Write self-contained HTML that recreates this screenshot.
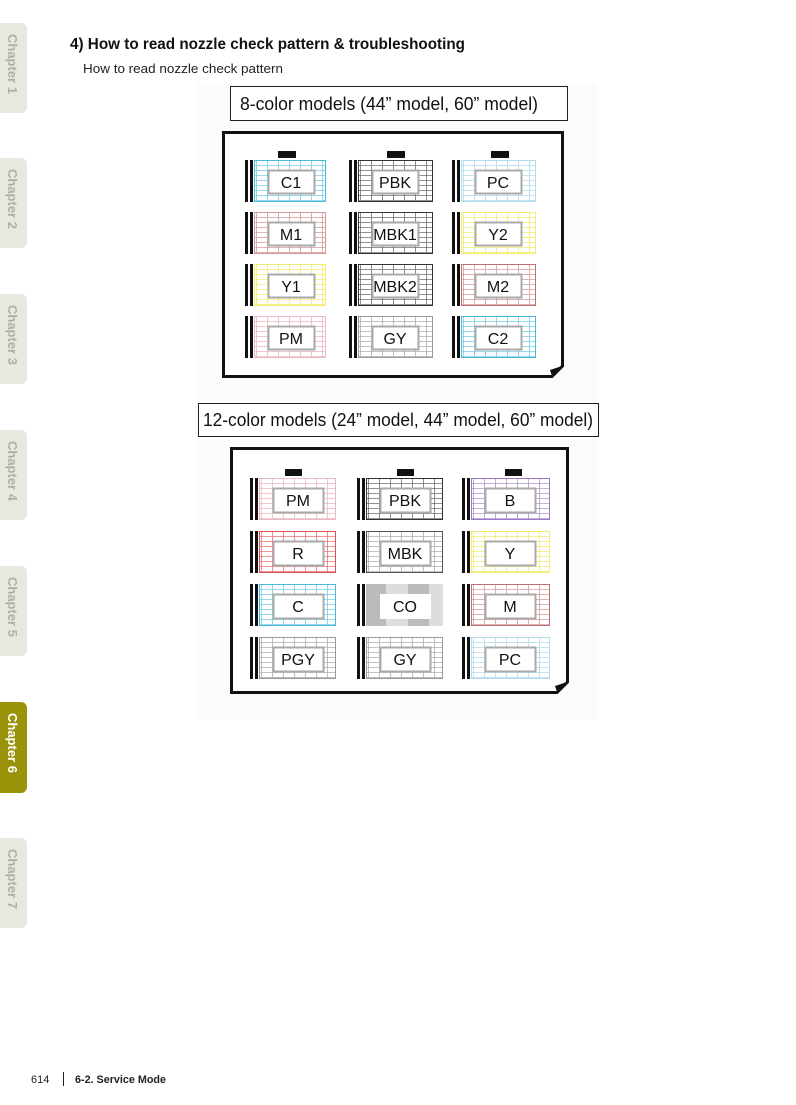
<!DOCTYPE html>
<html><head><meta charset="utf-8"><style>
html,body{margin:0;padding:0;background:#fff}
svg{display:block}
text{font-family:"Liberation Sans",sans-serif}
</style></head><body>
<svg width="796" height="1105" viewBox="0 0 796 1105" xmlns="http://www.w3.org/2000/svg">
<defs>
<pattern id="pc" width="11" height="5" patternUnits="userSpaceOnUse"><rect width="11" height="5" fill="#fff"/><path d="M0 0.5H11M0.5 0V5" stroke="#4ab8dc" stroke-width="0.8" stroke-opacity="0.75"/></pattern>
<pattern id="pk" width="11" height="5" patternUnits="userSpaceOnUse"><rect width="11" height="5" fill="#fff"/><path d="M0 0.5H11M0.5 0V5" stroke="#333" stroke-width="0.8" stroke-opacity="0.7"/></pattern>
<pattern id="plc" width="11" height="5" patternUnits="userSpaceOnUse"><rect width="11" height="5" fill="#fff"/><path d="M0 0.5H11M0.5 0V5" stroke="#b0dcec" stroke-width="0.8"/></pattern>
<pattern id="pm" width="11" height="5" patternUnits="userSpaceOnUse"><rect width="11" height="5" fill="#fff"/><path d="M0 0.5H11M0.5 0V5" stroke="#d49a9a" stroke-width="0.8"/></pattern>
<pattern id="py" width="11" height="5" patternUnits="userSpaceOnUse"><rect width="11" height="5" fill="#fff"/><path d="M0 0.5H11M0.5 0V5" stroke="#f2ec70" stroke-width="0.8"/></pattern>
<pattern id="pg" width="11" height="5" patternUnits="userSpaceOnUse"><rect width="11" height="5" fill="#fff"/><path d="M0 0.5H11M0.5 0V5" stroke="#999" stroke-width="0.8" stroke-opacity="0.8"/></pattern>
<pattern id="ppm" width="11" height="5" patternUnits="userSpaceOnUse"><rect width="11" height="5" fill="#fff"/><path d="M0 0.5H11M0.5 0V5" stroke="#ecb8c0" stroke-width="0.8"/></pattern>
<pattern id="pb" width="11" height="5" patternUnits="userSpaceOnUse"><rect width="11" height="5" fill="#fff"/><path d="M0 0.5H11M0.5 0V5" stroke="#9a78c4" stroke-width="0.8" stroke-opacity="0.8"/></pattern>
<pattern id="pr" width="11" height="5" patternUnits="userSpaceOnUse"><rect width="11" height="5" fill="#fff"/><path d="M0 0.5H11M0.5 0V5" stroke="#e05050" stroke-width="0.8" stroke-opacity="0.8"/></pattern>
</defs>

<!-- chapter tabs -->
<g font-weight="bold" font-size="13">
<rect x="-6" y="23" width="33" height="90" rx="6" fill="#e8e8e0"/>
<text transform="translate(8,34) rotate(90)" fill="#b0b0a8">Chapter 1</text>
<rect x="-6" y="158" width="33" height="90" rx="6" fill="#e8e8e0"/>
<text transform="translate(8,169) rotate(90)" fill="#b0b0a8">Chapter 2</text>
<rect x="-6" y="294" width="33" height="90" rx="6" fill="#e8e8e0"/>
<text transform="translate(8,305) rotate(90)" fill="#b0b0a8">Chapter 3</text>
<rect x="-6" y="430" width="33" height="90" rx="6" fill="#e8e8e0"/>
<text transform="translate(8,441) rotate(90)" fill="#b0b0a8">Chapter 4</text>
<rect x="-6" y="566" width="33" height="90" rx="6" fill="#e8e8e0"/>
<text transform="translate(8,577) rotate(90)" fill="#b0b0a8">Chapter 5</text>
<rect x="-6" y="702" width="33" height="91" rx="6" fill="#9a9208"/>
<text transform="translate(8,713) rotate(90)" fill="#fff">Chapter 6</text>
<rect x="-6" y="838" width="33" height="90" rx="6" fill="#e8e8e0"/>
<text transform="translate(8,849) rotate(90)" fill="#b0b0a8">Chapter 7</text>
</g>

<text x="70" y="49" font-size="15.5" font-weight="bold" fill="#111" textLength="395" lengthAdjust="spacingAndGlyphs">4) How to read nozzle check pattern &amp; troubleshooting</text>
<text x="83" y="73" font-size="13" fill="#222" textLength="200" lengthAdjust="spacingAndGlyphs">How to read nozzle check pattern</text>

<rect x="197" y="84" width="400" height="636" fill="#fbfbfb"/>

<!-- 8-color -->
<rect x="230.5" y="86.5" width="337" height="34" fill="#fff" stroke="#222"/>
<text x="240" y="110" font-size="18" fill="#111" textLength="298" lengthAdjust="spacingAndGlyphs">8-color models (44” model, 60” model)</text>
<path d="M223.5 132.5H562.5V366L552 376.5H223.5Z" fill="#fff" stroke="#111" stroke-width="3"/>
<path d="M562 366 L552 376 L550 370 Z" fill="#111"/>
<g fill="#111">
<rect x="278" y="151" width="18" height="7"/><rect x="387" y="151" width="18" height="7"/><rect x="491" y="151" width="18" height="7"/>
</g>

<g font-size="16" text-anchor="middle" fill="#111">
<g transform="translate(245,160)"><rect width="3" height="42"/><rect x="5" width="3" height="42"/><rect x="9.5" y=".5" width="71" height="41" fill="url(#pc)" stroke="#4ab8dc"/><rect x="23.5" y="10.5" width="46" height="23" fill="#fff" stroke="#aaa" stroke-width="2"/><text x="46" y="28">C1</text></g>
<g transform="translate(349,160)"><rect width="3" height="42"/><rect x="5" width="3" height="42"/><rect x="9.5" y=".5" width="74" height="41" fill="url(#pk)" stroke="#333"/><rect x="23.5" y="10.5" width="46" height="23" fill="#fff" stroke="#aaa" stroke-width="2"/><text x="46" y="28">PBK</text></g>
<g transform="translate(452,160)"><rect width="3" height="42"/><rect x="5" width="3" height="42"/><rect x="9.5" y=".5" width="74" height="41" fill="url(#plc)" stroke="#b0dcec"/><rect x="23.5" y="10.5" width="46" height="23" fill="#fff" stroke="#aaa" stroke-width="2"/><text x="46" y="28">PC</text></g>

<g transform="translate(245,212)"><rect width="3" height="42"/><rect x="5" width="3" height="42"/><rect x="9.5" y=".5" width="71" height="41" fill="url(#pm)" stroke="#d49a9a"/><rect x="23.5" y="10.5" width="46" height="23" fill="#fff" stroke="#aaa" stroke-width="2"/><text x="46" y="28">M1</text></g>
<g transform="translate(349,212)"><rect width="3" height="42"/><rect x="5" width="3" height="42"/><rect x="9.5" y=".5" width="74" height="41" fill="url(#pk)" stroke="#333"/><rect x="23.5" y="10.5" width="46" height="23" fill="#fff" stroke="#aaa" stroke-width="2"/><text x="46" y="28">MBK1</text></g>
<g transform="translate(452,212)"><rect width="3" height="42"/><rect x="5" width="3" height="42"/><rect x="9.5" y=".5" width="74" height="41" fill="url(#py)" stroke="#f2ec70"/><rect x="23.5" y="10.5" width="46" height="23" fill="#fff" stroke="#aaa" stroke-width="2"/><text x="46" y="28">Y2</text></g>

<g transform="translate(245,264)"><rect width="3" height="42"/><rect x="5" width="3" height="42"/><rect x="9.5" y=".5" width="71" height="41" fill="url(#py)" stroke="#f2ec70"/><rect x="23.5" y="10.5" width="46" height="23" fill="#fff" stroke="#aaa" stroke-width="2"/><text x="46" y="28">Y1</text></g>
<g transform="translate(349,264)"><rect width="3" height="42"/><rect x="5" width="3" height="42"/><rect x="9.5" y=".5" width="74" height="41" fill="url(#pk)" stroke="#333"/><rect x="23.5" y="10.5" width="46" height="23" fill="#fff" stroke="#aaa" stroke-width="2"/><text x="46" y="28">MBK2</text></g>
<g transform="translate(452,264)"><rect width="3" height="42"/><rect x="5" width="3" height="42"/><rect x="9.5" y=".5" width="74" height="41" fill="url(#pm)" stroke="#c07070"/><rect x="23.5" y="10.5" width="46" height="23" fill="#fff" stroke="#aaa" stroke-width="2"/><text x="46" y="28">M2</text></g>

<g transform="translate(245,316)"><rect width="3" height="42"/><rect x="5" width="3" height="42"/><rect x="9.5" y=".5" width="71" height="41" fill="url(#ppm)" stroke="#ecb8c0"/><rect x="23.5" y="10.5" width="46" height="23" fill="#fff" stroke="#aaa" stroke-width="2"/><text x="46" y="28">PM</text></g>
<g transform="translate(349,316)"><rect width="3" height="42"/><rect x="5" width="3" height="42"/><rect x="9.5" y=".5" width="74" height="41" fill="url(#pg)" stroke="#999"/><rect x="23.5" y="10.5" width="46" height="23" fill="#fff" stroke="#aaa" stroke-width="2"/><text x="46" y="28">GY</text></g>
<g transform="translate(452,316)"><rect width="3" height="42"/><rect x="5" width="3" height="42"/><rect x="9.5" y=".5" width="74" height="41" fill="url(#pc)" stroke="#4ab8dc"/><rect x="23.5" y="10.5" width="46" height="23" fill="#fff" stroke="#aaa" stroke-width="2"/><text x="46" y="28">C2</text></g>
</g>

<!-- 12-color -->
<rect x="198.5" y="403.5" width="400" height="33" fill="#fff" stroke="#222"/>
<text x="203" y="426" font-size="18" fill="#111" textLength="390" lengthAdjust="spacingAndGlyphs">12-color models (24” model, 44” model, 60” model)</text>
<path d="M231.5 448.5H567.5V682L557 692.5H231.5Z" fill="#fff" stroke="#111" stroke-width="3"/>
<path d="M567 682 L557 692 L555 686 Z" fill="#111"/>
<g fill="#111">
<rect x="285" y="469" width="17" height="7"/><rect x="397" y="469" width="17" height="7"/><rect x="505" y="469" width="17" height="7"/>
</g>

<g font-size="16" text-anchor="middle" fill="#111">
<g transform="translate(250,478)"><rect width="3" height="42"/><rect x="5" width="3" height="42"/><rect x="9.5" y=".5" width="76" height="41" fill="url(#ppm)" stroke="#ecb8c0"/><rect x="23.5" y="10.5" width="50" height="24" fill="#fff" stroke="#aaa" stroke-width="2"/><text x="48" y="28">PM</text></g>
<g transform="translate(357,478)"><rect width="3" height="42"/><rect x="5" width="3" height="42"/><rect x="9.5" y=".5" width="76" height="41" fill="url(#pk)" stroke="#333"/><rect x="23.5" y="10.5" width="50" height="24" fill="#fff" stroke="#aaa" stroke-width="2"/><text x="48" y="28">PBK</text></g>
<g transform="translate(462,478)"><rect width="3" height="42"/><rect x="5" width="3" height="42"/><rect x="9.5" y=".5" width="78" height="41" fill="url(#pb)" stroke="#9a78c4"/><rect x="23.5" y="10.5" width="50" height="24" fill="#fff" stroke="#aaa" stroke-width="2"/><text x="48" y="28">B</text></g>

<g transform="translate(250,531)"><rect width="3" height="42"/><rect x="5" width="3" height="42"/><rect x="9.5" y=".5" width="76" height="41" fill="url(#pr)" stroke="#e05050"/><rect x="23.5" y="10.5" width="50" height="24" fill="#fff" stroke="#aaa" stroke-width="2"/><text x="48" y="28">R</text></g>
<g transform="translate(357,531)"><rect width="3" height="42"/><rect x="5" width="3" height="42"/><rect x="9.5" y=".5" width="76" height="41" fill="url(#pg)" stroke="#555"/><rect x="23.5" y="10.5" width="50" height="24" fill="#fff" stroke="#aaa" stroke-width="2"/><text x="48" y="28">MBK</text></g>
<g transform="translate(462,531)"><rect width="3" height="42"/><rect x="5" width="3" height="42"/><rect x="9.5" y=".5" width="78" height="41" fill="url(#py)" stroke="#f2ec70"/><rect x="23.5" y="10.5" width="50" height="24" fill="#fff" stroke="#aaa" stroke-width="2"/><text x="48" y="28">Y</text></g>

<g transform="translate(250,584)"><rect width="3" height="42"/><rect x="5" width="3" height="42"/><rect x="9.5" y=".5" width="76" height="41" fill="url(#pc)" stroke="#4ab8dc"/><rect x="23.5" y="10.5" width="50" height="24" fill="#fff" stroke="#aaa" stroke-width="2"/><text x="48" y="28">C</text></g>
<g transform="translate(357,584)"><rect width="3" height="42"/><rect x="5" width="3" height="42"/><rect x="9" y="0" width="77" height="42" fill="#ddd"/><rect x="9" y="0" width="20" height="42" fill="#bbb"/><rect x="51" y="0" width="21" height="42" fill="#bbb"/><rect x="23" y="10" width="51" height="25" fill="#fff"/><text x="48" y="28">CO</text></g>
<g transform="translate(462,584)"><rect width="3" height="42"/><rect x="5" width="3" height="42"/><rect x="9.5" y=".5" width="78" height="41" fill="url(#pm)" stroke="#c07070"/><rect x="23.5" y="10.5" width="50" height="24" fill="#fff" stroke="#aaa" stroke-width="2"/><text x="48" y="28">M</text></g>

<g transform="translate(250,637)"><rect width="3" height="42"/><rect x="5" width="3" height="42"/><rect x="9.5" y=".5" width="76" height="41" fill="url(#pg)" stroke="#999"/><rect x="23.5" y="10.5" width="50" height="24" fill="#fff" stroke="#aaa" stroke-width="2"/><text x="48" y="28">PGY</text></g>
<g transform="translate(357,637)"><rect width="3" height="42"/><rect x="5" width="3" height="42"/><rect x="9.5" y=".5" width="76" height="41" fill="url(#pg)" stroke="#999"/><rect x="23.5" y="10.5" width="50" height="24" fill="#fff" stroke="#aaa" stroke-width="2"/><text x="48" y="28">GY</text></g>
<g transform="translate(462,637)"><rect width="3" height="42"/><rect x="5" width="3" height="42"/><rect x="9.5" y=".5" width="78" height="41" fill="url(#plc)" stroke="#b0dcec"/><rect x="23.5" y="10.5" width="50" height="24" fill="#fff" stroke="#aaa" stroke-width="2"/><text x="48" y="28">PC</text></g>
</g>

<!-- footer -->
<text x="31" y="1083" font-size="11" fill="#222">614</text>
<rect x="63" y="1072" width="1" height="14" fill="#222"/>
<text x="75" y="1083" font-size="11" font-weight="bold" fill="#222" textLength="91" lengthAdjust="spacingAndGlyphs">6-2. Service Mode</text>
</svg>
</body></html>
